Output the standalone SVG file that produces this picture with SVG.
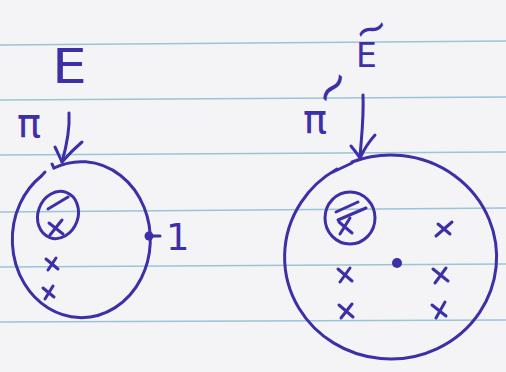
<svg xmlns="http://www.w3.org/2000/svg" width="506" height="372" viewBox="0 0 506 372">
<style>
.rule{stroke:#9cc3d6;stroke-width:1.6;fill:none}
.ink{stroke:#3d2fa6;stroke-width:3;fill:none;stroke-linecap:round;stroke-linejoin:round}
.t{fill:#3d2fa6;font-family:"DejaVu Sans",sans-serif}
</style>
<rect width="506" height="372" fill="#f4f4f6"/>
<g id="paper-lines">
<path class="rule" d="M0 45 L506 41"/>
<path class="rule" d="M0 100 L506 97"/>
<path class="rule" d="M0 155 L506 152"/>
<path class="rule" d="M0 212 L506 208"/>
<path class="rule" d="M0 267 L506 264"/>
<path class="rule" d="M0 322 L506 320"/>
</g>
<g id="E-space">
<text class="t" x="52" y="83" font-size="48" transform="translate(52 83) scale(1.15 1) translate(-52 -83)">E</text>
</g>
<g id="E-tilde-space">
<text class="t" x="356" y="67" font-size="33">E</text>
<text class="t" x="0" y="13" font-size="40" text-anchor="middle" transform="translate(371 29) rotate(-20)">~</text>
</g>
<g id="left-base">
<path class="ink" d="M54 168 A69 78 0 1 1 41.4 176"/>
<path class="ink" d="M41.4 176 L45 172"/>
<path class="ink" d="M54 168 L52 164"/>
<ellipse class="ink" cx="58" cy="215" rx="20" ry="24" transform="rotate(20 58 215)"/>
<path class="ink" d="M48 209 L68 197"/>
<path class="ink" d="M49 223 L63 234 M62 220 L50 235"/>
<path class="ink" d="M46 259 L58 269 M56 258 L48 270"/>
<path class="ink" d="M43 288 L54 297 M53 286 L45 299"/>
<circle cx="149" cy="236" r="4.5" fill="#3d2fa6"/>
<path class="ink" d="M152 236 L160 236"/>
<text class="t" x="166" y="250" font-size="37">1</text>
</g>
<g id="right-base">
<path class="ink" d="M352 162 A106 102 0 1 1 337 169"/>
<path class="ink" d="M333 172 L352 163"/>
<ellipse class="ink" cx="350" cy="218" rx="25" ry="26"/>
<path class="ink" d="M336 212 L358 202 M338 220 L366 208"/>
<path class="ink" d="M339 222 L352 233 M350 218 L340 234"/>
<path class="ink" d="M436 236 L452 222 M438 224 L450 234"/>
<path class="ink" d="M338 269 L352 281 M350 268 L340 282"/>
<path class="ink" d="M339 305 L353 317 M352 304 L341 318"/>
<path class="ink" d="M433 269 L448 281 M446 268 L435 283"/>
<path class="ink" d="M432 305 L446 316 M445 302 L436 318"/>
<circle cx="397" cy="263" r="5" fill="#3d2fa6"/>
</g>
<g id="connectors">
<path class="ink" d="M69 113 C70 130 66 148 62 162"/>
<path class="ink" d="M55 147 C58 153 60 158 62 162 C68 155 75 148 82 142"/>
<path class="ink" d="M363 95 C364 120 361 140 360 158"/>
<path class="ink" d="M351 146 Q356 152 360 158 Q366 145 375 135"/>
</g>
<g id="labels">
<text class="t" x="17" y="137" font-size="40">π</text>
<text class="t" x="303" y="133" font-size="40">π</text>
<text class="t" x="0" y="14" font-size="46" text-anchor="middle" transform="translate(333 88) rotate(-50)">~</text>
</g>
</svg>
